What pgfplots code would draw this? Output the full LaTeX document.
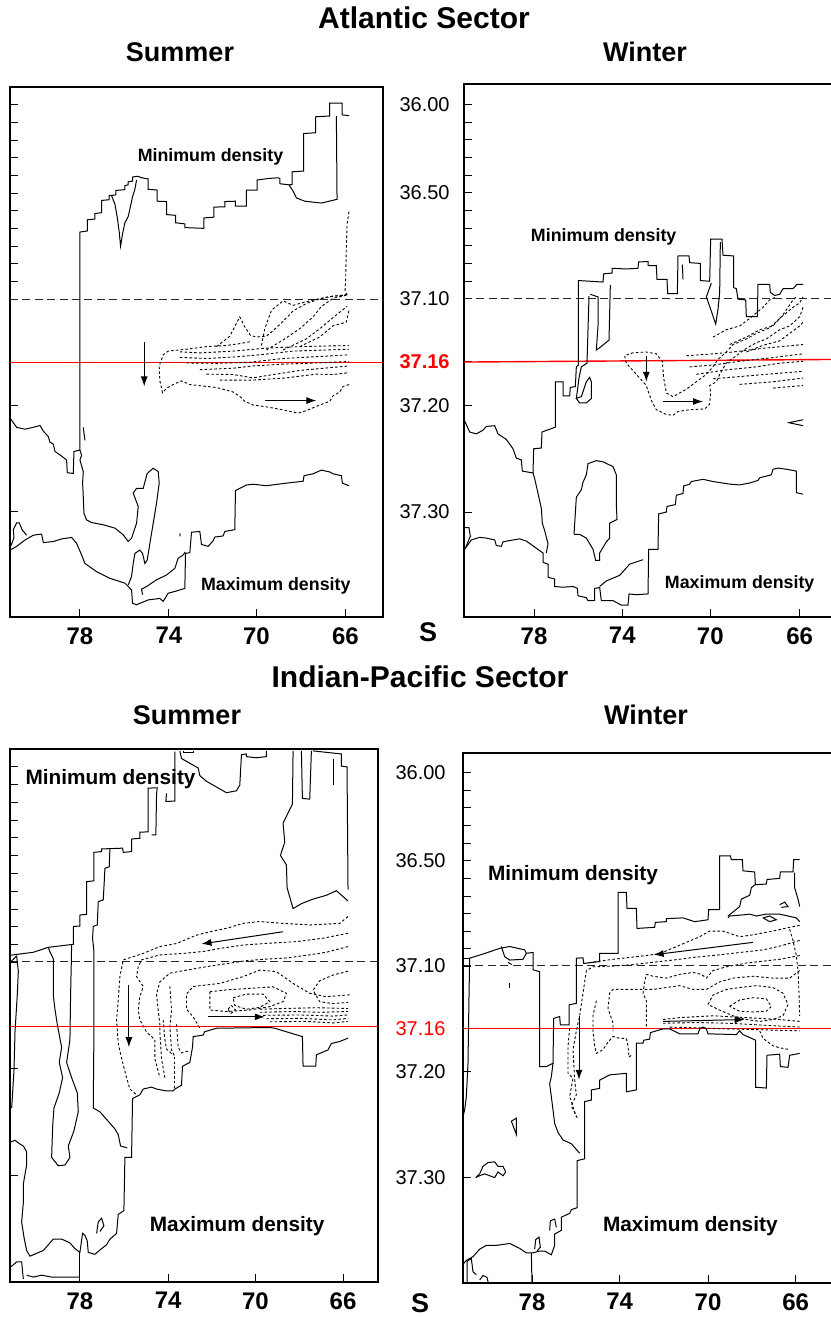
\documentclass[border=0pt]{standalone}
\usepackage{pgfplots}
\pgfplotsset{compat=1.18}
\usepackage{fontspec}
\setmainfont{Liberation Sans}
\usetikzlibrary{arrows.meta}
\pgfplotsset{
 panel/.style={scale only axis, anchor=north west, y dir=reverse,
   axis line style={line width=0.6pt}, tick align=inside,
   xtick pos=left, ytick pos=left, major tick length=4pt,
   tick style={black, line width=0.5pt},
   xticklabels={78,74,70,66},
   xticklabel style={font=\fontsize{12}{12}\selectfont\bfseries, inner sep=0pt, anchor=north, yshift=-5pt},
   yticklabel style={font=\fontsize{10}{10}\selectfont, inner sep=0pt, anchor=east, xshift=-7pt}},
 sol/.style={black, line width=0.5pt, no marks},
 dsh/.style={black, line width=0.45pt, no marks, dash pattern=on 1.3pt off 1.1pt},
 refl/.style={black!85, line width=0.45pt, no marks, dash pattern=on 4pt off 2.2pt},
 redl/.style={red, line width=0.7pt, no marks},
 arr/.style={black, line width=0.5pt, no marks, -{Latex[length=5pt,width=3.5pt]}},
}
\newcommand{\smallbold}{\fontsize{8.9}{9}\selectfont\bfseries}
\newcommand{\midbold}{\fontsize{10.4}{11}\selectfont\bfseries}
\begin{document}
\begin{tikzpicture}
\path[use as bounding box] (0pt,0pt) rectangle (415pt,-658.5pt);
% titles
\node[font=\fontsize{15}{18}\selectfont\bfseries] at (212pt,-8.75pt) {Atlantic Sector};
\node[font=\fontsize{13.5}{16}\selectfont\bfseries] at (90pt,-26pt) {Summer};
\node[font=\fontsize{13.5}{16}\selectfont\bfseries] at (322.5pt,-26pt) {Winter};
\node[font=\fontsize{15}{18}\selectfont\bfseries] at (210pt,-338.5pt) {Indian-Pacific Sector};
\node[font=\fontsize{13.5}{16}\selectfont\bfseries] at (93.5pt,-357.5pt) {Summer};
\node[font=\fontsize{13.5}{16}\selectfont\bfseries] at (323pt,-357.5pt) {Winter};
\node[font=\fontsize{13.5}{16}\selectfont\bfseries] at (214pt,-316pt) {S};
\node[font=\fontsize{13.5}{16}\selectfont\bfseries] at (210pt,-651.5pt) {S};

%================ P1 Atlantic Summer
\begin{axis}[panel, at={(5pt,-43.5pt)}, width=186.5pt, height=265pt,
  xmin=30, xmax=1150, ymin=50, ymax=1475,
  xtick={240,507,770,1037},
  ytick={98,145.5,193,240.5,288,335.5,383,430.5,478,525.5,573,620,905,1190}, yticklabels={}]
\addplot[refl] coordinates {(30,620)(1150,620)};
\addplot[redl] coordinates {(30,790)(1150,790)};
\addplot[sol] coordinates {(30,940)(50,965)(75,970)(100,965)(120,960)(130,975)(145,990)(150,1005)(160,1010)(165,1030)(180,1039)(200,1053)(202,1087)(220,1089)(222,1030)(240,1026)(240,440)(262,437)(262,407)(285,405)(285,390)(305,388)(305,355)(328,353)(328,342)(348,340)(348,328)(375,326)(375,315)(385,313)(385,305)(398,303)(398,292)(413,290)(430,295)(445,297)(445,325)(472,327)(472,357)(500,358)(500,393)(527,395)(527,415)(555,418)(555,428)(612,430)(612,402)(642,400)(642,373)(675,372)(675,358)(707,357)(707,370)(740,370)(740,327)(772,327)(772,300)(805,296)(835,294)(840,296)(840,310)(868,313)(880,330)(890,348)(915,357)(965,362)(1012,352)(1010,128)};
\addplot[sol] coordinates {(868,313)(877,312)(877,278)(912,276)(912,175)(948,173)(948,130)(990,128)(990,93)(1027,93)(1027,125)(1048,127)};
\addplot[sol] coordinates {(335,342)(345,365)(352,400)(358,440)(362,478)(368,445)(375,415)(385,398)(392,370)(398,345)(405,325)(410,300)};
\addplot[sol] coordinates {(250,965)(255,1000)};
\addplot[sol] coordinates {(240,1026)(245,1040)(240,1053)(250,1084)(248,1115)(250,1151)(252,1196)(260,1214)(275,1221)(310,1227)(345,1236)(370,1254)(385,1272)(395,1263)(410,1223)(415,1178)(400,1142)(410,1129)(430,1129)(442,1089)(460,1075)(475,1084)(478,1115)(470,1169)(460,1223)(450,1277)(442,1322)(435,1331)(428,1304)(420,1295)(405,1304)(400,1331)(395,1366)(385,1389)};
\addplot[sol] coordinates {(428,1415)(425,1400)(440,1393)(470,1375)(500,1362)(525,1344)(535,1317)(550,1308)(556,1300)};
\addplot[sol] coordinates {(30,1295)(50,1285)(75,1268)(100,1255)(125,1252)(130,1275)(160,1272)(185,1265)(215,1261)(230,1277)(245,1308)(255,1331)(290,1353)(330,1371)(375,1384)(395,1402)(398,1438)(410,1442)(445,1429)(480,1425)(490,1433)(505,1411)(530,1405)(555,1398)(557,1304)(570,1302)(575,1247)(600,1245)(605,1280)(625,1285)(640,1270)(645,1260)(670,1257)(675,1245)(705,1240)(707,1135)(740,1120)(760,1118)(800,1122)(860,1115)(910,1110)(913,1095)(940,1090)(965,1080)(990,1085)(1000,1090)(1025,1095)(1028,1115)(1048,1122)};
\addplot[sol] coordinates {(32,1285)(42,1262)(40,1240)(50,1222)(58,1222)(66,1240)(80,1255)};
\addplot[sol] coordinates {(540,1250)(541,1258)};
\addplot[dsh] coordinates {(1048,385)(1042,420)(1040,480)(1038,560)(1036,600)(1045,612)};
\addplot[dsh] coordinates {(750,735)(720,740)(680,745)(620,748)(560,755)(505,760)(490,770)(478,800)(480,840)(488,872)(500,860)(520,850)(545,840)(570,850)(600,853)(650,858)(700,870)(720,882)(735,895)(760,905)(800,910)(850,918)(895,927)(920,920)(960,905)(990,895)(1000,880)(1020,870)(1030,855)(1048,850)};
\addplot[dsh] coordinates {(540,762)(600,765)(700,760)(800,752)(900,748)(1048,745)};
\addplot[dsh] coordinates {(540,777)(620,780)(700,776)(780,770)(880,760)(1048,755)};
\addplot[dsh] coordinates {(560,792)(650,793)(750,790)(850,780)(950,775)(1048,770)};
\addplot[dsh] coordinates {(600,810)(700,806)(760,800)(850,795)(950,792)(1048,788)};
\addplot[dsh] coordinates {(620,822)(700,823)(760,832)(800,826)(900,812)(1048,800)};
\addplot[dsh] coordinates {(660,838)(760,838)(860,832)(950,822)(1000,823)(1048,818)};
\addplot[dsh] coordinates {(650,748)(690,720)(720,668)(735,695)(752,718)(770,722)(800,720)(820,705)(850,680)(880,652)(920,632)(960,620)(1000,612)(1040,610)};
\addplot[dsh] coordinates {(785,745)(795,700)(815,650)(850,625)(880,637)(920,627)(980,615)(1040,608)};
\addplot[dsh] coordinates {(800,757)(850,730)(900,700)(940,668)(965,640)(1000,618)(1040,610)};
\addplot[dsh] coordinates {(850,757)(920,727)(960,700)(1000,670)(1042,640)};
\addplot[dsh] coordinates {(900,748)(960,722)(1000,692)(1040,682)(1048,650)};
\addplot[arr] coordinates {(433,735)(433,855)};
\addplot[arr] coordinates {(795,893)(950,893)};
\node[font=\smallbold] at (axis cs:632,237) {Minimum density};
\node[font=\smallbold] at (axis cs:828,1392) {Maximum density};
\end{axis}

%================ P2 Atlantic Winter
\begin{axis}[panel, at={(232pt,-42pt)}, width=185.5pt, height=266.5pt,
  xmin=253, xmax=1366, ymin=40, ymax=1472,
  xtick={463,728,992,1260},
  ytick={95,142.5,190,237.5,285,332.5,380,427.5,475,522.5,570,617,785,905,1190},
  yticklabels={36.00,,,,,36.50,,,,,,37.10,{\textcolor{red}{\bfseries 37.16}},37.20,37.30}]
\addplot[refl] coordinates {(253,615)(1366,615)};
\addplot[redl] coordinates {(253,787)(1366,780)};
\addplot[sol] coordinates {(255,945)(270,975)(290,980)(310,970)(320,960)(345,958)(355,980)(380,995)(400,1020)(410,1045)(425,1050)(428,1080)(460,1085)(462,1020)(485,1018)(487,975)(527,962)(527,840)(550,840)(550,878)(570,878)(572,855)(587,853)(590,800)(596,795)(596,568)(670,572)(672,550)(697,548)(697,535)(740,537)(775,535)(777,518)(805,517)(805,528)(830,528)(832,565)(862,565)(864,603)(893,603)(895,502)(928,502)(930,520)(962,522)(962,568)(990,570)(993,457)(1027,457)(1030,500)(1062,502)(1062,587)(1070,590)(1075,618)(1098,620)(1100,665)(1133,665)(1135,578)(1170,578)(1172,600)(1185,608)(1200,605)(1210,590)(1240,590)(1252,578)(1270,578)};
\addplot[sol] coordinates {(995,575)(980,612)(993,645)(1008,685)(1015,645)(1020,600)(1022,465)};
\addplot[sol] coordinates {(908,525)(910,565)};
\addplot[sol] coordinates {(632,605)(655,612)(655,690)(650,755)(665,745)(688,728)(692,580)};
\addplot[sol] coordinates {(628,610)(625,700)(622,790)(605,800)(598,830)(590,885)(600,897)(620,897)(635,885)(635,840)(630,828)(620,840)(605,880)(588,885)};
\addplot[sol] coordinates {(460,1085)(465,1100)(475,1140)(485,1180)(488,1220)(495,1240)(505,1275)(500,1300)};
\addplot[sol] coordinates {(255,1290)(275,1265)(300,1258)(320,1260)(345,1265)(350,1280)(365,1282)(370,1270)(400,1265)(420,1262)(440,1268)(462,1282)(490,1300)(490,1325)(505,1330)(505,1365)(525,1370)(525,1390)(550,1392)(580,1390)(593,1395)(595,1415)(620,1420)(625,1428)(645,1428)(645,1395)(660,1393)(665,1428)(700,1428)(725,1440)(745,1440)(748,1410)(770,1412)(805,1410)(807,1290)(835,1290)(837,1195)(860,1190)(862,1175)(887,1170)(890,1145)(910,1140)(912,1120)(930,1115)(935,1108)(970,1102)(1000,1108)(1050,1115)(1080,1117)(1110,1112)(1135,1105)(1140,1098)(1175,1090)(1180,1075)(1195,1072)(1220,1075)(1250,1080)(1250,1138)(1270,1142)};
\addplot[sol] coordinates {(255,1232)(268,1232)(272,1255)(258,1285)};
\addplot[sol] coordinates {(660,1390)(680,1375)(720,1360)(750,1330)(790,1318)};
\addplot[sol] coordinates {(583,1250)(590,1150)(605,1130)(610,1110)(620,1090)(625,1060)(650,1052)(670,1055)(700,1068)(710,1090)(710,1170)(712,1210)(690,1220)(690,1260)(680,1270)(670,1285)(660,1300)(660,1320)(648,1320)(640,1290)(620,1260)(600,1250)(583,1250)};
\addplot[sol] coordinates {(1270,942)(1228,950)(1270,958)};
\addplot[dsh] coordinates {(1270,640)(1260,665)(1230,690)(1200,700)(1160,725)(1130,735)(1100,750)(1070,770)(1040,790)(1020,820)(1010,840)(990,850)(993,870)(990,900)(975,913)(930,915)(895,920)(880,930)(860,928)(830,915)(815,890)(800,850)(780,830)(760,810)(740,790)(735,770)(760,762)(800,760)(830,765)(848,785)(852,830)(860,870)(880,880)(920,860)(950,840)(980,820)(1000,800)(1015,780)(1040,760)(1060,740)(1100,725)(1130,710)(1170,695)(1200,670)(1240,640)(1260,628)(1270,612)};
\addplot[dsh] coordinates {(920,770)(1000,765)(1060,760)(1150,750)(1270,740)};
\addplot[dsh] coordinates {(930,800)(1000,795)(1080,785)(1180,775)(1270,765)};
\addplot[dsh] coordinates {(950,820)(1040,808)(1130,800)(1200,790)(1270,785)};
\addplot[dsh] coordinates {(1000,832)(1080,826)(1160,820)(1270,812)};
\addplot[dsh] coordinates {(1080,847)(1180,840)(1270,830)};
\addplot[dsh] coordinates {(1180,857)(1270,850)};
\addplot[dsh] coordinates {(1000,720)(1040,700)(1080,690)(1110,670)(1150,640)(1170,620)(1190,612)};
\addplot[dsh] coordinates {(1050,740)(1100,720)(1140,700)(1180,690)(1210,660)(1240,620)(1250,612)};
\addplot[dsh] coordinates {(1100,760)(1150,742)(1200,730)(1230,710)(1260,690)(1270,680)};
\addplot[arr] coordinates {(800,770)(800,840)};
\addplot[arr] coordinates {(850,893)(970,893)};
\node[font=\smallbold] at (axis cs:672,450) {Minimum density};
\node[font=\smallbold] at (axis cs:1080,1383) {Maximum density};
\end{axis}

%================ P3 Indian-Pacific Summer
\begin{axis}[panel, at={(5pt,-374.5pt)}, width=184pt, height=266.5pt,
  xmin=30, xmax=1135, ymin=55, ymax=1458,
  xtick={240,505,767,1030},
  ytick={102,148.7,195.4,242,289,336,383,430,476.6,523,570,617,897,1177}, yticklabels={}]
\addplot[refl] coordinates {(30,615)(1135,615)};
\addplot[sol] coordinates {(30,598)(100,590)(145,577)(220,569)(220,522)(240,521)(240,492)(260,490)(260,404)(282,402)(282,327)(305,325)(305,318)(368,316)(370,327)(395,325)(395,292)(420,290)(420,274)(445,273)(445,158)(472,157)(470,176)(468,281)(455,281)};
\addplot[sol] coordinates {(330,316)(328,365)(315,369)(313,404)(310,452)(295,457)(292,518)(280,522)(278,553)(282,588)(282,702)(282,800)(280,1000)(300,1010)(320,1030)(345,1055)(355,1070)(362,1100)(382,1105)};
\addplot[sol] coordinates {(500,172)(498,193)(525,192)(525,62)};
\addplot[sol] coordinates {(540,60)(545,80)(575,95)(595,105)(600,125)(620,140)(650,155)(680,170)(710,165)(720,150)(725,70)(740,68)(740,75)(770,78)(800,75)(800,60)};
\addplot[sol] coordinates {(550,60)(550,65)(580,65)(580,60)};
\addplot[sol] coordinates {(32,615)(50,600)(55,640)(52,700)(45,800)(42,900)(35,1000)};
\addplot[sol] coordinates {(145,577)(150,589)(160,607)(160,702)(165,740)(172,780)(185,840)(178,880)(188,920)(178,960)(162,1000)(158,1050)(155,1130)(175,1152)(195,1150)(210,1130)(205,1100)(222,1060)(235,1010)(232,960)(215,920)(200,880)(210,820)(212,700)(214,620)(215,570)};
\addplot[sol] coordinates {(30,1090)(45,1085)(60,1095)(70,1100)(80,1115)(80,1150)(70,1200)(70,1250)(65,1300)(72,1340)(80,1375)(90,1390)(130,1375)(160,1345)(185,1345)(210,1355)(225,1370)(240,1380)(248,1330)(255,1335)(262,1350)(265,1380)(285,1385)(305,1370)(320,1360)(330,1345)(350,1330)(355,1280)(372,1270)(375,1130)(395,1130)(398,975)(420,965)(430,950)(455,945)(470,950)(500,955)(520,955)(525,950)(545,940)(548,890)(570,880)(578,840)(580,812)(610,808)(615,799)(650,790)(810,788)(825,790)(908,812)(910,890)(948,890)(950,860)(985,847)(995,830)(1020,825)(1045,816)};
\addplot[sol] coordinates {(30,1420)(50,1405)(65,1405)(70,1450)};
\addplot[sol] coordinates {(80,1440)(100,1445)(125,1440)(155,1445)(240,1445)};
\addplot[sol] coordinates {(240,1380)(240,1458)};
\addplot[sol] coordinates {(290,1330)(295,1300)(305,1290)(312,1310)(300,1325)};
\addplot[sol] coordinates {(905,60)(908,185)(930,187)(935,60)};
\addplot[sol] coordinates {(1000,80)(1000,150)};
\addplot[sol] coordinates {(940,60)(1025,68)(1025,100)(1042,102)(1045,425)};
\addplot[sol] coordinates {(880,60)(878,200)(850,250)(855,300)(842,335)(860,360)(862,420)(880,475)(905,462)(940,450)(980,440)(1010,428)(1045,455)};
\addplot[dsh] coordinates {(1045,496)(1020,514)(930,518)(850,514)(780,509)(730,514)(680,527)(630,536)(590,545)(530,567)(480,575)(430,593)(370,610)(360,654)(355,716)(350,768)(355,830)(365,869)(380,920)(390,950)(410,965)};
\addplot[dsh] coordinates {(1045,540)(970,553)(890,562)(810,566)(730,571)(660,580)(610,588)(550,593)(480,597)(425,610)(415,628)(410,654)(430,680)(420,707)(415,742)(420,768)(440,800)(465,820)(465,870)(480,920)};
\addplot[dsh] coordinates {(1045,575)(980,590)(920,598)(860,605)(800,608)(740,612)(680,620)(620,628)(560,637)(510,645)(480,668)(470,700)(475,742)(480,780)(480,800)(485,870)(495,920)};
\addplot[dsh] coordinates {(1050,702)(980,707)(930,698)(880,672)(830,641)(780,637)(730,654)(660,672)(580,680)(560,700)(560,740)(580,760)(600,790)};
\addplot[dsh] coordinates {(630,694)(680,689)(750,685)(820,681)(860,698)(850,720)(810,733)(750,742)(680,746)(630,742)(630,694)};
\addplot[dsh] coordinates {(700,710)(740,700)(790,700)(810,720)(780,735)(740,740)(705,730)(700,710)};
\addplot[dsh] coordinates {(685,740)(695,730)(707,742)(692,752)(685,740)};
\addplot[dsh] coordinates {(1045,640)(1000,650)(960,665)(940,690)(960,720)(1000,725)(1045,722)};
\addplot[dsh] coordinates {(780,740)(850,738)(950,736)(1045,738)};
\addplot[dsh] coordinates {(780,748)(880,746)(960,748)(1045,746)};
\addplot[dsh] coordinates {(790,756)(900,755)(1000,758)(1045,755)};
\addplot[dsh] coordinates {(800,765)(900,764)(1000,768)(1045,764)};
\addplot[dsh] coordinates {(810,773)(920,772)(1000,776)(1045,772)};
\addplot[dsh] coordinates {(510,680)(515,742)(510,786)(515,847)(525,865)};
\addplot[dsh] coordinates {(490,768)(495,820)(500,845)(520,860)};
\addplot[dsh] coordinates {(530,780)(535,840)(545,855)(565,850)};
\addplot[dsh] coordinates {(525,865)(525,950)};
\addplot[redl, line width=0.6pt] coordinates {(30,785)(1135,785)};
\addplot[arr] coordinates {(850,536)(605,568)};
\addplot[arr] coordinates {(387,676)(387,840)};
\addplot[arr] coordinates {(625,760)(795,760)};
\node[font=\midbold] at (axis cs:332,133) {Minimum density};
\node[font=\midbold] at (axis cs:712,1310) {Maximum density};
\end{axis}

%================ P4 Indian-Pacific Winter
\begin{axis}[panel, at={(231.5pt,-376.5pt)}, width=186pt, height=265pt,
  xmin=250, xmax=1366, ymin=62, ymax=1470,
  xtick={457,720,985,1248},
  ytick={115,162,208,255,302,348,395,442,488,535,582,628,795,908,1190},
  yticklabels={36.00,,,,,36.50,,,,,,37.10,{\textcolor{red}{37.16}},37.20,37.30},
  yticklabel style={xshift=-1.5pt}]
\addplot[refl] coordinates {(250,627)(1366,627)};
\addplot[redl, line width=0.5pt] coordinates {(250,795)(1366,795)};
\addplot[sol] coordinates {(250,1028)(255,1010)(260,975)(265,886)(268,709)(270,607)(310,596)(360,581)(390,576)(435,585)(440,594)(460,592)(460,638)(480,643)(480,895)(500,895)(520,886)(522,767)(540,762)(542,784)(568,784)(568,731)(590,727)(590,607)(610,606)(612,621)(660,616)(660,594)(715,594)(715,432)(740,432)(742,475)(770,475)(772,528)(825,525)(827,512)(860,510)(860,502)(910,500)(945,510)(985,505)(987,478)(1020,478)(1020,335)(1052,335)(1055,345)(1088,345)(1090,375)(1125,378)(1127,412)(1160,410)(1162,398)(1200,395)(1202,378)(1240,378)(1242,345)(1260,345)};
\addplot[sol] coordinates {(250,607)(270,607)};
\addplot[sol] coordinates {(365,576)(375,603)(390,612)(430,610)(440,594)};
\addplot[sol] coordinates {(385,618)(396,624)};
\addplot[sol] coordinates {(390,674)(390,686)};
\addplot[sol] coordinates {(520,886)(515,922)(510,940)(515,975)(520,1010)(525,1046)(535,1070)(550,1090)(575,1100)(590,1115)(600,1125)};
\addplot[sol] coordinates {(1260,510)(1250,500)(1200,490)(1160,490)(1130,495)(1110,490)(1090,492)(1050,495)(1045,500)};
\addplot[sol] coordinates {(1045,495)(1080,470)(1085,450)(1110,440)(1115,420)(1125,412)};
\addplot[sol] coordinates {(1245,380)(1245,420)(1255,450)(1260,470)};
\addplot[sol] coordinates {(1150,500)(1170,495)(1190,505)(1170,510)(1150,500)};
\addplot[sol] coordinates {(1200,465)(1215,458)(1225,470)(1205,472)};
\addplot[sol] coordinates {(250,1420)(260,1410)(280,1400)(300,1380)(320,1370)(350,1370)(390,1365)(420,1378)(440,1390)(460,1390)(480,1385)(495,1385)(515,1395)(525,1370)(525,1340)(545,1330)(545,1295)(570,1285)(575,1275)(592,1270)(592,1145)(615,1140)(615,988)(635,984)(635,957)(660,953)(660,931)(690,917)(740,913)(740,962)(770,957)(770,833)(790,833)(792,825)(810,822)(812,805)(830,800)(850,795)(870,795)(900,808)(955,808)(960,795)(970,790)(980,795)(985,808)(1070,810)(1080,800)(1090,810)(1128,825)(1128,950)(1160,952)(1162,865)(1200,862)(1202,895)(1225,897)(1230,865)(1260,860)};
\addplot[sol] coordinates {(262,1470)(262,1412)(275,1405)(280,1440)(290,1448)};
\addplot[sol] coordinates {(300,1462)(310,1450)(322,1455)(326,1470)};
\addplot[sol] coordinates {(455,1390)(457,1470)};
\addplot[sol] coordinates {(465,1380)(468,1355)(478,1348)(482,1375)(472,1385)};
\addplot[sol] coordinates {(510,1330)(512,1305)(525,1300)(530,1322)};
\addplot[sol] coordinates {(288,1190)(300,1180)(310,1160)(325,1150)(345,1148)(355,1160)(370,1160)(378,1175)(370,1185)(355,1175)(345,1190)(330,1185)(315,1180)(300,1185)(288,1190)};
\addplot[sol] coordinates {(395,1040)(410,1032)(410,1075)(395,1040)};
\addplot[dsh] coordinates {(1260,520)(1230,525)(1180,535)(1120,545)(1080,550)(1030,535)(990,535)(960,550)(920,565)(880,580)(840,595)(800,600)(750,605)(700,610)(660,615)(620,620)};
\addplot[dsh] coordinates {(1260,560)(1200,575)(1150,585)(1100,590)(1050,595)(1000,600)(940,605)(900,610)(850,615)(800,620)(750,625)(700,628)(640,630)(620,640)(610,700)(600,760)(590,800)(580,850)(585,930)(590,970)(575,1000)(595,1035)};
\addplot[dsh] coordinates {(570,793)(565,842)(565,913)(580,926)(570,975)(580,1002)(590,1028)};
\addplot[dsh] coordinates {(1260,600)(1200,610)(1150,615)(1100,620)(1040,630)(1000,640)(980,660)(965,650)(940,645)(900,650)(860,660)(820,655)(800,650)(795,670)(790,700)(800,720)(800,790)};
\addplot[dsh] coordinates {(1260,640)(1230,660)(1180,660)(1120,655)(1060,660)(1020,670)(980,690)(940,690)(900,680)(860,685)(820,690)(780,690)(740,690)(700,690)(690,700)(685,740)(700,780)(700,800)};
\addplot[dsh] coordinates {(650,720)(640,760)(640,800)(645,840)(650,860)(670,850)(685,830)(700,815)(720,820)(740,820)(745,840)(748,870)(755,865)};
\addplot[dsh] coordinates {(985,730)(1000,705)(1040,690)(1080,685)(1130,680)(1180,685)(1210,700)(1225,730)(1210,760)(1180,770)(1140,775)(1100,770)(1060,760)(1020,745)(985,730)};
\addplot[dsh] coordinates {(1050,735)(1080,718)(1120,712)(1160,715)(1175,735)(1160,748)(1120,750)(1080,748)(1050,735)};
\addplot[dsh] coordinates {(850,770)(900,765)(1000,760)(1100,765)(1200,770)(1260,775)};
\addplot[dsh] coordinates {(850,780)(950,778)(1050,780)(1150,785)(1260,790)};
\addplot[dsh] coordinates {(870,790)(950,792)(1050,795)(1260,800)};
\addplot[dsh] coordinates {(1140,800)(1150,820)(1180,840)(1200,845)(1230,850)};
\addplot[dsh] coordinates {(1230,530)(1240,560)(1250,600)(1255,640)(1258,700)(1260,760)};
\addplot[arr] coordinates {(1120,565)(822,598)};
\addplot[arr] coordinates {(598,760)(598,930)};
\addplot[arr] coordinates {(850,775)(1095,770)};
\node[font=\midbold] at (axis cs:580,387) {Minimum density};
\node[font=\midbold] at (axis cs:932,1318) {Maximum density};
\end{axis}
\end{tikzpicture}
\end{document}
